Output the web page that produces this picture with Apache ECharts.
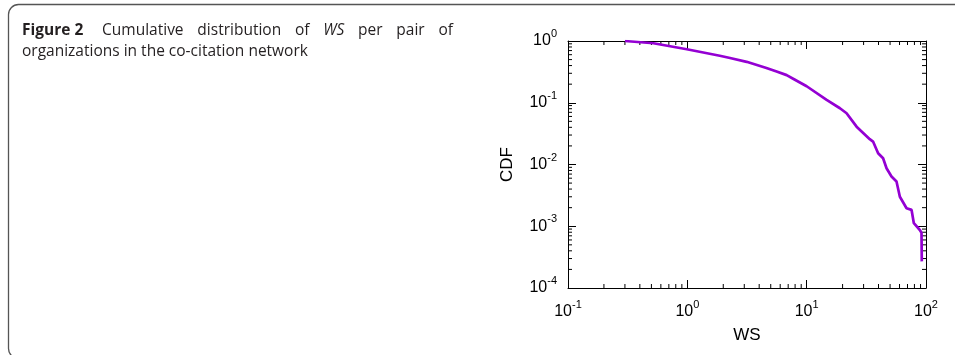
<!DOCTYPE html>
<html>
<head>
<meta charset="utf-8">
<script src="https://cdn.jsdelivr.net/npm/echarts@6/dist/echarts.min.js"></script>
<style>
  html, body { margin: 0; padding: 0; background: #fff; }
  #chart { width: 955px; height: 355px; }
</style>
</head>
<body>
<div id="chart"></div>
<script>
// WS values and their CDF
var wsValues = [0.30, 0.52, 0.99, 1.87, 2.28, 3.14, 4.6, 5.6, 6.8, 7.7, 10, 14.7, 19, 21.6, 26.2, 33.8, 36.0, 39.7, 43.7, 46.7, 51.4, 56.6, 60.4, 68.7, 75.7, 79.1, 88.8, 91.7, 92.2]
var cdfValues = [1.0, 0.92, 0.735, 0.578, 0.53, 0.46, 0.365, 0.32, 0.28, 0.245, 0.185, 0.111, 0.0815, 0.0676, 0.041, 0.0257, 0.0235, 0.0152, 0.0126, 0.0087, 0.0064, 0.0053, 0.0030, 0.00196, 0.00184, 0.00112, 0.00087, 0.00078, 0.00027]

// axis ranges and minor ticks (2..9 per decade)
var xRange = [0.1, 100]
var yRange = [0.0001, 1]
var xMinorTicks = [0.2, 0.3, 0.4, 0.5, 0.6, 0.7, 0.8, 0.9, 2, 3, 4, 5, 6, 7, 8, 9, 20, 30, 40, 50, 60, 70, 80, 90]
var yMinorTicks = [0.0002, 0.0003, 0.0004, 0.0005, 0.0006, 0.0007, 0.0008, 0.0009,
  0.002, 0.003, 0.004, 0.005, 0.006, 0.007, 0.008, 0.009,
  0.02, 0.03, 0.04, 0.05, 0.06, 0.07, 0.08, 0.09,
  0.2, 0.3, 0.4, 0.5, 0.6, 0.7, 0.8, 0.9]

// caption: first line is justified, second line is the last line
var captionLine1 = [
  { t: 'Figure 2', s: 'bold' },
  { t: 'Cumulative' }, { t: 'distribution' }, { t: 'of' },
  { t: 'WS', s: 'italic' },
  { t: 'per' }, { t: 'pair' }, { t: 'of' }
]
var captionLine2 = 'organizations in the co-citation network'

var lineData = wsValues.map(function (w, i) { return [w, cdfValues[i]] })

var labelFont = 'Liberation Sans'
var capFont = 'Open Sans'
var capSize = 15.5
var capColor = '#231f20'

function powLabel(v) {
  var e = Math.round(Math.log10(v))
  return '{b|10}{s|' + e + '}'
}
var powRich = {
  b: { fontFamily: labelFont, fontSize: 16, color: '#000' },
  s: { fontFamily: labelFont, fontSize: 11, color: '#000', padding: [0, 0, 14, 0] }
}

// draw short minor ticks on both sides of the box
function minorX(params, api) {
  var cs = params.coordSys
  var p = api.coord([api.value(0), 1])
  var st = { stroke: '#000', lineWidth: 1 }
  return {
    type: 'group',
    children: [
      { type: 'line', shape: { x1: p[0], y1: cs.y + cs.height, x2: p[0], y2: cs.y + cs.height - 4 }, style: st },
      { type: 'line', shape: { x1: p[0], y1: cs.y, x2: p[0], y2: cs.y + 4 }, style: st }
    ]
  }
}
function minorY(params, api) {
  var cs = params.coordSys
  var p = api.coord([1, api.value(1)])
  var st = { stroke: '#000', lineWidth: 1 }
  return {
    type: 'group',
    children: [
      { type: 'line', shape: { x1: cs.x, y1: p[1], x2: cs.x + 4, y2: p[1] }, style: st },
      { type: 'line', shape: { x1: cs.x + cs.width, y1: p[1], x2: cs.x + cs.width - 4, y2: p[1] }, style: st }
    ]
  }
}

// build justified caption line
function captionGraphics() {
  var ctx = document.createElement('canvas').getContext('2d')
  var left = 22
  var right = 453
  var widths = captionLine1.map(function (w) {
    var st = w.s === 'bold' ? 'bold ' : (w.s === 'italic' ? 'italic ' : '')
    ctx.font = st + capSize + 'px "' + capFont + '"'
    return ctx.measureText(w.t).width
  })
  var total = widths.reduce(function (a, b) { return a + b }, 0)
  var extra = 5 // wider space after the figure number
  var gap = (right - left - total - extra) / (captionLine1.length - 1)
  var out = []
  var x = left
  captionLine1.forEach(function (w, i) {
    out.push({
      type: 'text',
      x: x,
      y: 31,
      silent: true,
      style: {
        text: w.t,
        fontFamily: capFont,
        fontSize: capSize,
        fontWeight: w.s === 'bold' ? 'bold' : 'normal',
        fontStyle: w.s === 'italic' ? 'italic' : 'normal',
        fill: capColor,
        verticalAlign: 'middle'
      }
    })
    x += widths[i] + gap + (i === 0 ? extra : 0)
  })
  out.push({
    type: 'text',
    x: left,
    y: 52,
    silent: true,
    style: {
      text: captionLine2,
      fontFamily: capFont,
      fontSize: capSize,
      fill: capColor,
      verticalAlign: 'middle'
    }
  })
  return out
}

var myChart = echarts.init(document.getElementById('chart'))

function logAxis(pos, range, showLabel, name) {
  var ax = {
    type: 'log',
    logBase: 10,
    position: pos,
    min: range[0],
    max: range[1],
    axisLine: { show: true, onZero: false, lineStyle: { color: '#000', width: 1 } },
    axisTick: { show: true, inside: true, length: 8, lineStyle: { color: '#000', width: 1 } },
    minorTick: { show: false },
    splitLine: { show: false },
    axisLabel: {
      show: showLabel,
      formatter: powLabel,
      rich: powRich
    }
  }
  if (name) {
    ax.name = name
    ax.nameLocation = 'middle'
    ax.nameTextStyle = { fontFamily: labelFont, fontSize: 17, color: '#000' }
  }
  return ax
}

var xBottom = logAxis('bottom', xRange, true, 'WS')
xBottom.axisLabel.margin = 11
xBottom.nameGap = 39
var yLeft = logAxis('left', yRange, true, 'CDF')
yLeft.axisLabel.margin = 11
yLeft.nameGap = 52

const options = {
  animation: false,
  grid: { left: 568, right: 29, top: 41, bottom: 67, containLabel: false },
  xAxis: [xBottom, logAxis('top', xRange, false)],
  yAxis: [yLeft, logAxis('right', yRange, false)],
  graphic: [
    {
      type: 'rect',
      shape: { x: 8.5, y: 4.5, width: 1000, height: 354, r: 10 },
      style: { fill: 'none', stroke: '#555', lineWidth: 1.3 },
      silent: true
    }
  ].concat(captionGraphics()),
  series: [
    {
      type: 'custom',
      silent: true,
      clip: false,
      renderItem: minorX,
      data: xMinorTicks.map(function (v) { return [v, 1] })
    },
    {
      type: 'custom',
      silent: true,
      clip: false,
      renderItem: minorY,
      data: yMinorTicks.map(function (v) { return [1, v] })
    },
    {
      type: 'line',
      data: lineData,
      showSymbol: false,
      symbol: 'none',
      lineStyle: { color: '#9400d3', width: 2.7 },
      z: 5
    }
  ]
}
myChart.setOption(options)
</script>
</body>
</html>
